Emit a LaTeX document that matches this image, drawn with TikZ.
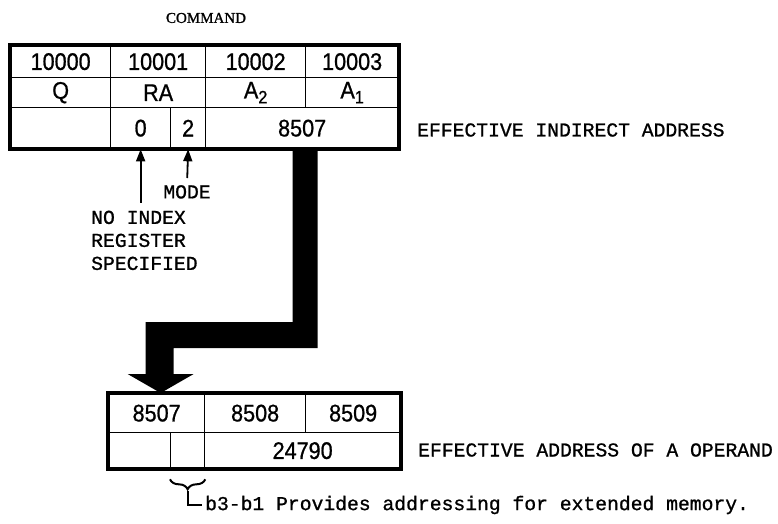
\documentclass[tikz,border=0pt]{standalone}
\usepackage{fontspec}
\setmainfont[FakeBold=1.2]{Liberation Serif}
\newfontfamily\cellfnt[FakeStretch=0.9,FakeBold=0.8]{Liberation Sans}
\newfontfamily\twfnt[FakeBold=1]{Liberation Mono}
\usetikzlibrary{arrows.meta,calc,decorations.pathreplacing}
\newcommand\subtxt[1]{\raisebox{-5pt}{\fontsize{18}{18}\selectfont #1}}
\begin{document}
\begin{tikzpicture}[x=1pt,y=-1pt,
  cell/.style={draw, line width=1.3pt, inner sep=0pt, anchor=north west,
               font=\cellfnt\fontsize{24}{24}\selectfont},
  frame/.style={line width=4.2pt},
  label/.style={inner sep=0pt, font=\twfnt\fontsize{19.7}{23}\selectfont},
  arr/.style={line width=1.8pt, -{Triangle[length=12pt,width=9pt]}}]
\useasboundingbox (0,0) rectangle (778,523);

% title
\node[font=\fontsize{15}{15}\selectfont, inner sep=0pt] (title) at (206,18) {COMMAND};

% top box, row 1
\node[cell, minimum width=100pt, minimum height=32pt] (c1) at (10,45) {10000};
\node[cell, minimum width=95pt,  minimum height=32pt] (c2) at (110,45) {10001};
\node[cell, minimum width=100pt, minimum height=32pt] (c3) at (205,45) {10002};
\node[cell, minimum width=93pt,  minimum height=32pt] (c4) at (305,45) {10003};
% row 2
\node[cell, minimum width=100pt, minimum height=30pt] (q)  at (10,77) {Q};
\node[cell, minimum width=95pt,  minimum height=30pt] (ra) at (110,77) {RA};
\node[cell, minimum width=100pt, minimum height=30pt] (a2) at (205,77) {A\subtxt{2}};
\node[cell, minimum width=93pt,  minimum height=30pt] (a1) at (305,77) {A\subtxt{1}};
% row 3
\node[cell, minimum width=100pt, minimum height=41pt] (blank) at (10,107) {};
\node[cell, minimum width=60pt,  minimum height=41pt] (zero)  at (110,107) {0};
\node[cell, minimum width=35pt,  minimum height=41pt] (two)   at (170,107) {2};
\node[cell, minimum width=193pt, minimum height=41pt] (ind)   at (205,107) {8507};
\draw[frame] (c1.north west) rectangle (ind.south east);

\node[label, anchor=west] (effind) at (417,130) {EFFECTIVE INDIRECT ADDRESS};

% annotations
\node[label, anchor=north] (mode) at (187,185) {MODE};
\node[label, anchor=north west, align=left] (noidx) at (91,210.5)
  {NO INDEX\\REGISTER\\SPECIFIED};
\draw[arr, shorten <=7pt] (mode.north) -- (two.south);
\draw[arr] ($(noidx.north -| zero.south)+(0,-8)$) -- (zero.south);

% bottom box
\node[cell, minimum width=96pt,  minimum height=39pt] (b1) at (108,393) {8507};
\node[cell, minimum width=101pt, minimum height=39pt] (b2) at (204,393) {8508};
\node[cell, minimum width=95pt,  minimum height=39pt] (b3) at (305,393) {8509};
\node[cell, minimum width=62pt,  minimum height=36pt] (bl) at (108,432) {};
\node[cell, minimum width=34pt,  minimum height=36pt] (bs) at (170,432) {};
\node[cell, minimum width=196pt, minimum height=36pt] (bv) at (204,432) {24790};
\draw[frame] (b1.north west) rectangle (bv.south east);

\node[label, anchor=west] (effop) at (418,450) {EFFECTIVE ADDRESS OF A OPERAND};

% big indirect arrow
\coordinate (T) at ($(b1.north)+(4,0)$);
\fill[black] ($(ind.south)+(-9.5,-2)$) coordinate (a0) -- ++(25,0) |- ($(T)+(13,-45)$)
  -- ($(T)+(13,-19)$) -- ($(T)+(33,-19)$) -- (T) -- ($(T)+(-33,-19)$)
  -- ($(T)+(-15,-19)$) -- ($(T)+(-15,-71)$) -| (a0) -- cycle;

% brace note
\draw[line width=2pt, decorate, decoration={brace, mirror, amplitude=10pt}]
  ($(bs.south west)+(0,10)$) -- ($(bs.south east)+(0,10)$);
\node[label, anchor=west, inner sep=3pt] (note) at (202,505)
  {b3-b1 Provides addressing for extended memory.};
\draw[line width=1.8pt] ($(bs.south)+(0,22)$) |- (note.west);
\end{tikzpicture}
\end{document}
